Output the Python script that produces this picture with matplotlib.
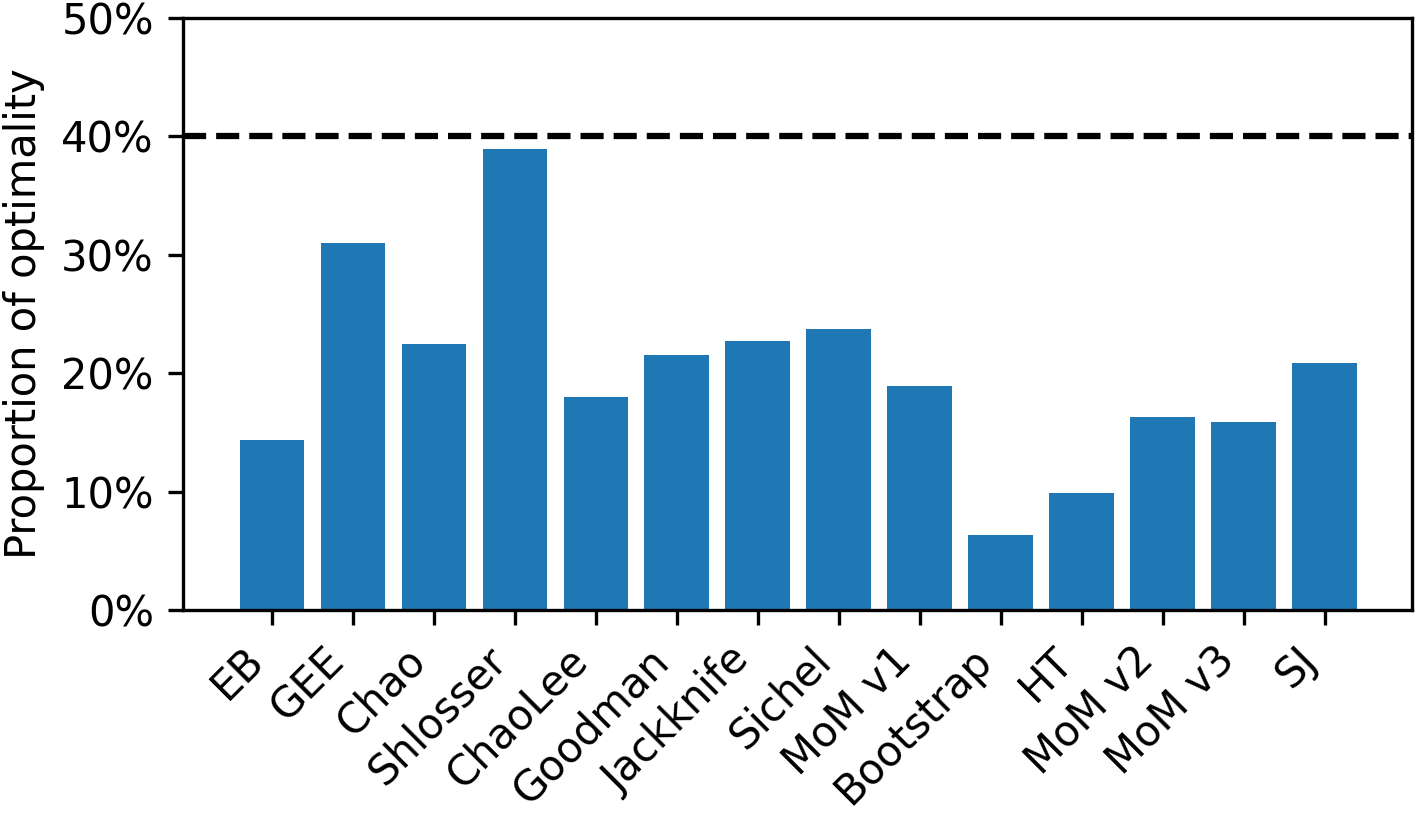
import numpy as np
import matplotlib
matplotlib.use('Agg')
import matplotlib.pyplot as plt
from matplotlib.ticker import PercentFormatter

methods = ['EB', 'GEE', 'Chao', 'Shlosser', 'ChaoLee', 'Goodman', 'Jackknife',
           'Sichel', 'MoM v1', 'Bootstrap', 'HT', 'MoM v2', 'MoM v3', 'SJ']
optimality = [0.1435, 0.310, 0.2245, 0.389, 0.180, 0.2155, 0.227,
              0.237, 0.189, 0.063, 0.099, 0.163, 0.159, 0.209]
threshold = 0.40

fig = plt.figure(figsize=(1416/300., 815/300.), dpi=300)
ax = fig.add_axes([183/1416., 1-610/815., (1412-183)/1416., (610-18)/815.])

x = np.arange(len(methods))
ax.bar(x, optimality, width=0.8, color='#1f77b4')
ax.axhline(threshold, color='k', linestyle='--', linewidth=1.5)   # optimal level

ax.set_xticks(x)
ax.set_xticklabels(methods, rotation=45, ha='right')
ax.set_xlim(-1.1, 14.08)
ax.set_ylim(0, 0.5)
ax.yaxis.set_major_formatter(PercentFormatter(1.0, decimals=0))
ax.set_ylabel('Proportion of optimality')

fig.savefig('out.png', dpi=300)
